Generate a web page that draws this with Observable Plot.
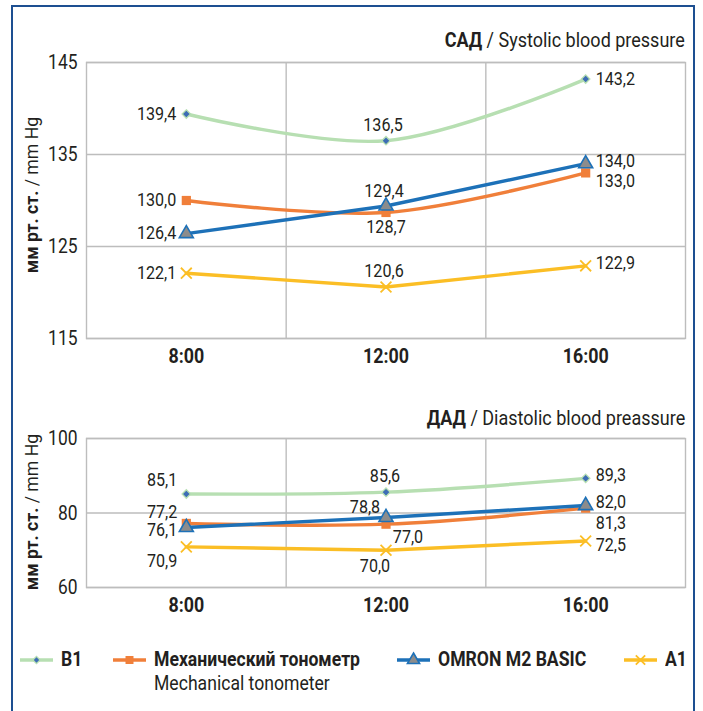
<!DOCTYPE html>
<html>
<head>
<meta charset="utf-8">
<script src="https://cdn.jsdelivr.net/npm/d3@7"></script>
<script src="https://cdn.jsdelivr.net/npm/@observablehq/plot@0.6"></script>
<style>
  html, body { margin: 0; padding: 0; background: #fff; overflow: hidden; }
  #chart {
    position: relative; width: 703px; height: 711px; overflow: hidden;
    font-family: Roboto, "Liberation Sans", sans-serif; color: #231f20;
  }
  .box { position: absolute; left: 11px; top: 5px; width: 684px; height: 740px;
         border: 2px solid #1d4f91; box-sizing: border-box; }
  .panel { position: absolute; left: 0; }
  .title { position: absolute; right: 18px; font-size: 20px; white-space: nowrap;
           transform: scaleX(0.9); transform-origin: right center; }
  .title b { font-weight: bold; }
  .legend-item { position: absolute; display: flex; align-items: flex-start; }
  .legend-item svg { flex: none; margin-top: 3px; }
  .legend-label { margin-left: 8px; font-size: 20px; line-height: 24px; white-space: nowrap;
                  transform: scaleX(0.88); transform-origin: left center; }
  .legend-label b { font-weight: bold; }
</style>
</head>
<body>
<div id="chart">
  <div class="box"></div>
</div>
<script>
// Measurement times
const times = ["8:00", "12:00", "16:00"];
const hours = [8, 12, 16];

// Devices
const series = ["B1", "Механический тонометр", "OMRON M2 BASIC", "A1"];
const seriesSub = ["", "Mechanical tonometer", "", ""];

// Systolic blood pressure, mm Hg
const sbpB1 = [139.4, 136.5, 143.2];
const sbpMech = [130.0, 128.7, 133.0];
const sbpOmron = [126.4, 129.4, 134.0];
const sbpA1 = [122.1, 120.6, 122.9];
const sbpTicks = [115, 125, 135, 145];

// Diastolic blood pressure, mm Hg
const dbpB1 = [85.1, 85.6, 89.3];
const dbpMech = [77.2, 77.0, 81.3];
const dbpOmron = [76.1, 78.8, 82.0];
const dbpA1 = [70.9, 70.0, 72.5];
const dbpTicks = [60, 80, 100];

// Per-series styling
const styles = [
  {line: "#b7dfb2", curve: "catmull-rom", symbol: "diamond2", r: 3.8, fill: "#3d6db5", stroke: "#b7dfb2", sw: 1.3},
  {line: "#f07f3a", curve: "catmull-rom", symbol: "square", r: 5.2, fill: "#f07f3a", stroke: "none", sw: 0},
  {line: "#1d71b8", curve: "linear", symbol: "triangle", r: 5.2, fill: "#8c8c8c", stroke: "#1d71b8", sw: 1.6},
  {line: "#fbbe25", curve: "linear", symbol: "times", r: 5, fill: "none", stroke: "#fbbe25", sw: 1.8}
];

// Value label placement per series and time: [dx, dy, textAnchor]
const L = -10, R = 10;
const sbpPlace = [
  [[L, 0, "end"], [-3, -15, "middle"], [R, 0, "start"]],
  [[L, 0, "end"], [0, 15, "middle"], [R, 8, "start"]],
  [[L, 0, "end"], [-2, -15, "middle"], [R, -2, "start"]],
  [[L, 0, "end"], [-2, -16, "middle"], [R, -2, "start"]]
];
const dbpPlace = [
  [[-9, -14, "end"], [-1, -16, "middle"], [R, -3, "start"]],
  [[-9, -11, "end"], [22, 13, "middle"], [R, 15, "start"]],
  [[-9, 3, "end"], [-21, -10, "middle"], [R, -3, "start"]],
  [[-9, 14, "end"], [-11, 16, "middle"], [R, 4, "start"]]
];

const fmt = v => v.toFixed(1).replace(".", ",");
const gridColor = "#bdbdbd";

function rowsOf(values, s) {
  return values.map((v, i) => ({hour: hours[i], time: times[i], value: v, series: series[s]}));
}

function panel({data, ticks, domain, place, height, marginBottom}) {
  const marks = [
    Plot.gridY(ticks, {stroke: gridColor, strokeOpacity: 1, strokeWidth: 1.4}),
    Plot.ruleX([10, 14], {stroke: gridColor, strokeWidth: 1.4}),
    Plot.frame({stroke: gridColor, strokeWidth: 1.4}),
    Plot.axisY(ticks, {tickSize: 0, tickPadding: 9, fontSize: 21, fill: "#231f20", label: null,
      className: "tick-y"}),
    Plot.axisX(hours, {tickSize: 0, tickPadding: 10, fontSize: 21, fontWeight: "bold", fill: "#231f20",
      tickFormat: h => times[hours.indexOf(h)], label: null, className: "tick-x"})
  ];
  data.forEach((values, s) => {
    const st = styles[s];
    marks.push(Plot.line(rowsOf(values, s), {x: "hour", y: "value", stroke: st.line, strokeWidth: 3.4, curve: st.curve}));
  });
  data.forEach((values, s) => {
    const st = styles[s];
    const rows = rowsOf(values, s);
    marks.push(Plot.dot(rows, {x: "hour", y: "value", symbol: st.symbol, r: st.r,
      fill: st.fill, stroke: st.stroke, strokeWidth: st.sw}));
    rows.forEach((d, i) => {
      const [dx, dy, anchor] = place[s][i];
      marks.push(Plot.text([d], {x: "hour", y: "value", text: r => fmt(r.value), dx, dy,
        textAnchor: anchor, lineAnchor: "middle", fontSize: 17.5, fill: "#231f20", className: "value-label"}));
    });
  });
  return Plot.plot({
    width: 703, height,
    marginLeft: 86, marginRight: 18, marginTop: 62, marginBottom,
    style: {fontFamily: "Roboto, 'Liberation Sans', sans-serif", background: "transparent", overflow: "visible"},
    x: {type: "linear", domain: [6, 18], axis: null},
    y: {domain, axis: null},
    marks
  });
}

function addYLabel(svg, cy) {
  const t = d3.select(svg).append("text")
    .attr("class", "y-title")
    .attr("transform", `translate(31,${cy}) rotate(-90)`)
    .attr("text-anchor", "middle")
    .attr("dominant-baseline", "central")
    .attr("font-size", 19)
    .attr("fill", "#231f20");
  t.append("tspan").attr("font-weight", "bold").text("мм рт. ст.");
  t.append("tspan").text(" / mm Hg");
}

// Narrow the rendered text horizontally to a condensed width
function condense(svg, selector, factor) {
  d3.select(svg).selectAll(selector).each(function () {
    const len = this.getComputedTextLength();
    if (len > 0) {
      this.setAttribute("textLength", (len * factor).toFixed(2));
      this.setAttribute("lengthAdjust", "spacingAndGlyphs");
    }
  });
}

const chart = document.getElementById("chart");

function place(el, top) {
  const wrap = document.createElement("div");
  wrap.className = "panel";
  wrap.style.top = top + "px";
  wrap.appendChild(el);
  chart.appendChild(wrap);
  condense(el, ".tick-y text", 0.83);
  condense(el, ".tick-x text", 0.85);
  condense(el, ".value-label text", 0.92);
  condense(el, "text.y-title", 0.93);
}

function addTitle(bold, rest, top) {
  const d = document.createElement("div");
  d.className = "title";
  d.style.top = top + "px";
  d.innerHTML = `<b>${bold}</b> / ${rest}`;
  chart.appendChild(d);
}

// Systolic panel
const top1 = panel({
  data: [sbpB1, sbpMech, sbpOmron, sbpA1], ticks: sbpTicks, domain: [115, 145],
  place: sbpPlace, height: 376, marginBottom: 38
});
addYLabel(top1, 195);
place(top1, 0);
addTitle("САД", "Systolic blood pressure", 28);

// Diastolic panel
const bottom1 = panel({
  data: [dbpB1, dbpMech, dbpOmron, dbpA1], ticks: dbpTicks, domain: [60, 100],
  place: dbpPlace, height: 249, marginBottom: 38
});
addYLabel(bottom1, 136);
place(bottom1, 376);
addTitle("ДАД", "Diastolic blood preassure", 406);

// Legend
const legendX = [20, 113, 397, 624];
const symbolTypes = {diamond2: d3.symbolDiamond2, square: d3.symbolSquare, triangle: d3.symbolTriangle, times: d3.symbolTimes};
legendX.forEach((x, s) => {
  const st = styles[s];
  const item = document.createElement("div");
  item.className = "legend-item";
  item.style.left = x + "px";
  item.style.top = 647 + "px";
  const sw = d3.create("svg").attr("width", 33).attr("height", 20);
  sw.append("line").attr("x1", 0).attr("x2", 33).attr("y1", 10).attr("y2", 10)
    .attr("stroke", st.line).attr("stroke-width", 3.4);
  sw.append("path")
    .attr("transform", "translate(16.5,10)")
    .attr("d", d3.symbol(symbolTypes[st.symbol], st.r * st.r * Math.PI * 0.75)())
    .attr("fill", st.fill).attr("stroke", st.stroke).attr("stroke-width", st.sw);
  item.appendChild(sw.node());
  const lab = document.createElement("div");
  lab.className = "legend-label";
  lab.innerHTML = `<b>${series[s]}</b>` + (seriesSub[s] ? `<br>${seriesSub[s]}` : "");
  item.appendChild(lab);
  chart.appendChild(item);
});
</script>
</body>
</html>
